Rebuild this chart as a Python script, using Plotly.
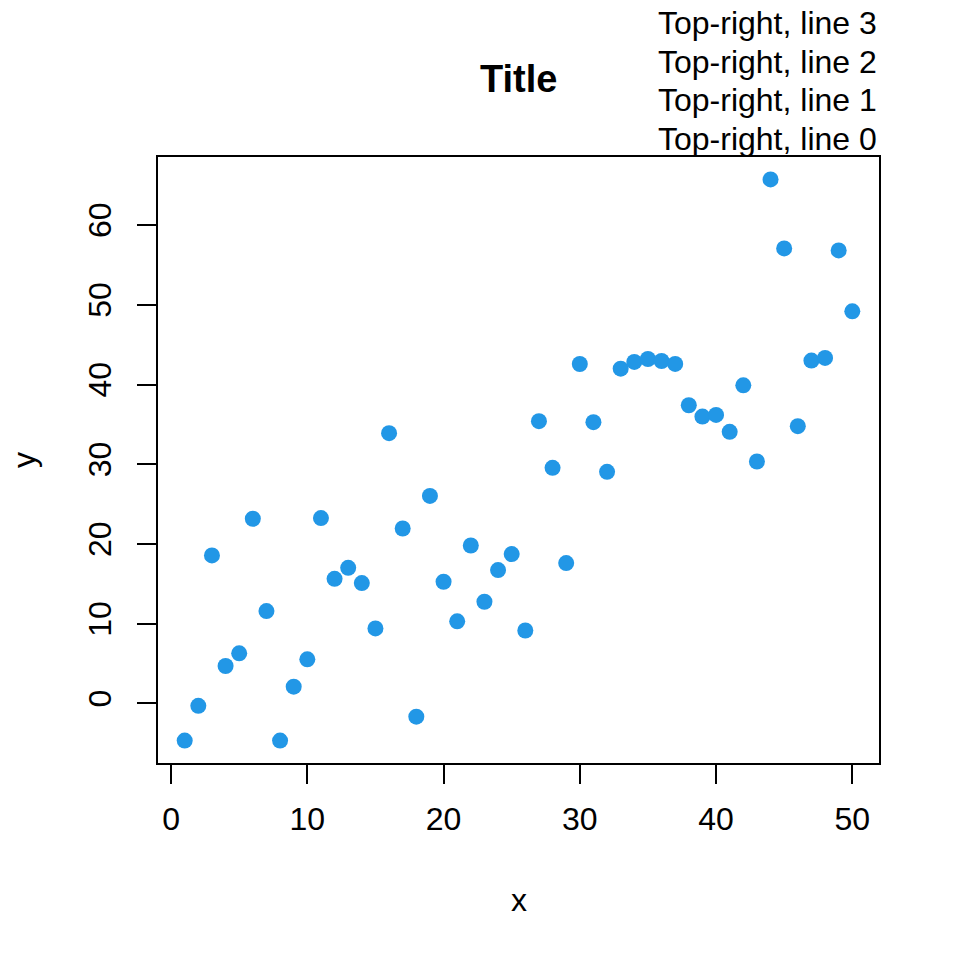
import plotly.graph_objects as go

# ---- data ----
x_vals = list(range(1, 51))
y_vals = [-4.66, -0.30, 18.56, 4.69, 6.28, 23.16, 11.58, -4.66, 2.10, 5.53,
          23.24, 15.63, 17.00, 15.09, 9.41, 33.90, 21.94, -1.66, 26.03, 15.26,
          10.29, 19.81, 12.75, 16.72, 18.73, 9.14, 35.40, 29.55, 17.60, 42.57,
          35.27, 29.05, 41.99, 42.83, 43.20, 42.95, 42.58, 37.40, 35.98, 36.19,
          34.06, 39.90, 30.34, 65.72, 57.07, 34.77, 43.00, 43.33, 56.82, 49.18]
x_ticks = [0, 10, 20, 30, 40, 50]
y_ticks = [0, 10, 20, 30, 40, 50, 60]
title_text = "Title"
x_label = "x"
y_label = "y"
top_right_lines = ["Top-right, line 0", "Top-right, line 1",
                   "Top-right, line 2", "Top-right, line 3"]

FONT = "Liberation Sans, Arial, Helvetica, sans-serif"
COLOR = "#2297E6"


def r_range(v):
    lo, hi = min(v), max(v)
    pad = (hi - lo) * 0.04
    return [lo - pad, hi + pad]


fig = go.Figure()
fig.add_trace(go.Scatter(
    x=x_vals, y=y_vals, mode="markers",
    marker=dict(color=COLOR, size=16, line=dict(width=0)),
    showlegend=False, hoverinfo="x+y"))

axis_common = dict(
    showgrid=False, zeroline=False, showline=True, linecolor="black",
    linewidth=2, mirror=True, ticks="outside", ticklen=19, tickwidth=2,
    tickcolor="black", tickfont=dict(family=FONT, size=32, color="black"),
    automargin=False)

fig.update_xaxes(range=r_range(x_vals), tickvals=x_ticks,
                 ticktext=[str(t) for t in x_ticks], ticklabelstandoff=8,
                 **axis_common)
fig.update_yaxes(range=r_range(y_vals), tickvals=y_ticks,
                 ticktext=[str(t) for t in y_ticks], tickangle=-90,
                 ticklabelstandoff=13, **axis_common)

annotations = [
    dict(text="<b>" + title_text + "</b>", xref="paper", yref="paper",
         x=0.5, y=1, xanchor="center", yanchor="middle", yshift=78,
         showarrow=False, font=dict(family=FONT, size=38, color="black")),
    dict(text=x_label, xref="paper", yref="paper", x=0.5, y=0,
         xanchor="center", yanchor="middle", yshift=-137, showarrow=False,
         font=dict(family=FONT, size=32, color="black")),
    dict(text=y_label, xref="paper", yref="paper", x=0, y=0.5,
         xanchor="center", yanchor="middle", xshift=-134, textangle=-90,
         showarrow=False, font=dict(family=FONT, size=32, color="black")),
]
for k, line in enumerate(top_right_lines):
    annotations.append(dict(
        text=line, xref="paper", yref="paper", x=1, y=1,
        xanchor="right", yanchor="middle", yshift=18 + 38.6 * k,
        showarrow=False, font=dict(family=FONT, size=32, color="black")))

fig.update_layout(
    width=960, height=960,
    margin=dict(l=158, r=81, t=157, b=197, pad=0),
    paper_bgcolor="white", plot_bgcolor="white",
    annotations=annotations,
    font=dict(family=FONT, size=32, color="black"))

fig.write_html("out.html",
               config={"displayModeBar": False},
               post_script="document.body.style.margin='0';"
                           "document.body.style.padding='0';")
